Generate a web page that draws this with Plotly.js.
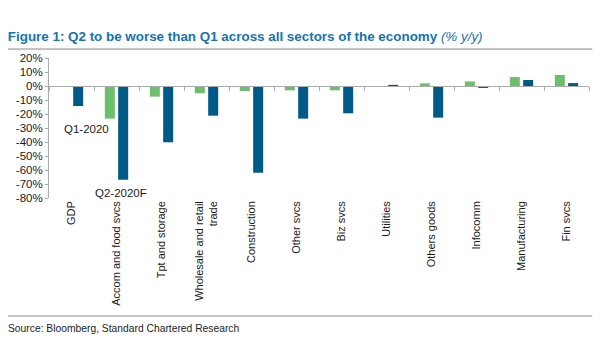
<!DOCTYPE html>
<html>
<head>
<meta charset="utf-8">
<script src="https://cdn.plot.ly/plotly-3.0.1.min.js"></script>
<style>html,body{margin:0;padding:0;background:#fff;}#chart{width:600px;height:360px;}</style>
</head>
<body>
<div id="chart"></div>
<script>
const categories = ["GDP", "Accom and food svcs", "Tpt and storage", "Wholesale and retail<br>trade", "Construction", "Other svcs", "Biz svcs", "Utilities", "Others goods", "Infocomm", "Manufacturing", "Fin svcs"];
const q1_2020 = [-0.4, -23.3, -7.6, -5.2, -3.6, -3.1, -3.1, 0.0, 1.9, 3.3, 6.4, 7.9];
const q2_2020F = [-14.3, -66.9, -40.2, -21.2, -61.9, -23.3, -19.5, 0.8, -22.6, -1.4, 4.3, 2.1];
const yTickVals = [20, 10, 0, -10, -20, -30, -40, -50, -60, -70, -80];
const yTickText = yTickVals.map(v => v + "%");

const green = "#6cc06b";
const blue = "#005a88";
const font = "Liberation Sans, Arial, sans-serif";

const traces = [
  {type: "bar", name: "Q1-2020", x: categories, y: q1_2020, marker: {color: green}, hoverinfo: "none"},
  {type: "bar", name: "Q2-2020F", x: categories, y: q2_2020F, marker: {color: blue}, hoverinfo: "none"},
  {type: "scatter", mode: "none", x: [null], y: [null], xaxis: "x2", showlegend: false, hoverinfo: "none"}
];

const zeroPos = (0 - (-80)) / (20 - (-80));

const layout = {
  width: 600, height: 360,
  margin: {l: 49, r: 11, t: 58, b: 162},
  paper_bgcolor: "#fff", plot_bgcolor: "#fff",
  showlegend: false,
  barmode: "group",
  bargap: 0.407,
  bargroupgap: 0.25,
  font: {family: font, color: "#1a1a1a", size: 11},
  title: {
    text: "<b>Figure 1: Q2 to be worse than Q1 across all sectors of the economy</b> <i>(% y/y)</i>",
    x: 0.013, xref: "container", xanchor: "left",
    y: 0.9, yref: "container", yanchor: "middle",
    font: {family: font, size: 13.4, color: "#1673b0"}
  },
  xaxis: {
    type: "category",
    categoryarray: categories,
    range: [-0.5, categories.length - 0.5],
    showline: false, showgrid: false, zeroline: false,
    ticks: "",
    tickangle: -90,
    tickfont: {family: font, size: 11, color: "#1a1a1a"},
    automargin: false
  },
  xaxis2: {
    overlaying: "x",
    anchor: "free",
    position: zeroPos,
    type: "linear",
    range: [-0.5, categories.length - 0.5],
    tick0: 0.5, dtick: 1,
    ticks: "outside", ticklen: 4, tickcolor: "#aaaaaa", tickwidth: 1,
    showline: true, linecolor: "#aaaaaa", linewidth: 1,
    showticklabels: false, showgrid: false, zeroline: false
  },
  yaxis: {
    range: [-80, 20],
    tickvals: yTickVals, ticktext: yTickText,
    ticks: "outside", ticklen: 3, tickcolor: "#aaaaaa",
    showline: true, linecolor: "#aaaaaa", linewidth: 1,
    showgrid: false, zeroline: false,
    tickfont: {family: font, size: 11.5, color: "#1a1a1a"},
    automargin: false
  },
  shapes: [
    {type: "line", xref: "paper", yref: "paper", x0: -0.076, x1: 1.006, y0: 1.064, y1: 1.064, line: {color: "#888888", width: 1}},
    {type: "line", xref: "paper", yref: "paper", x0: -0.076, x1: 1.006, y0: -0.843, y1: -0.843, line: {color: "#888888", width: 1}}
  ],
  annotations: [
    {text: "Q1-2020", x: 0.344, y: -30.7, xref: "x", yref: "y", showarrow: false, font: {family: font, size: 11.5, color: "#1a1a1a"}},
    {text: "Q2-2020F", x: 1.1, y: -76.4, xref: "x", yref: "y", showarrow: false, font: {family: font, size: 11.5, color: "#1a1a1a"}},
    {text: "Source: Bloomberg, Standard Chartered Research", xref: "paper", yref: "paper", x: -0.08, xanchor: "left", y: -0.93, yanchor: "middle", showarrow: false, font: {family: font, size: 10.3, color: "#222"}}
  ]
};

Plotly.newPlot("chart", traces, layout, {displayModeBar: false, staticPlot: true});
</script>
</body>
</html>
